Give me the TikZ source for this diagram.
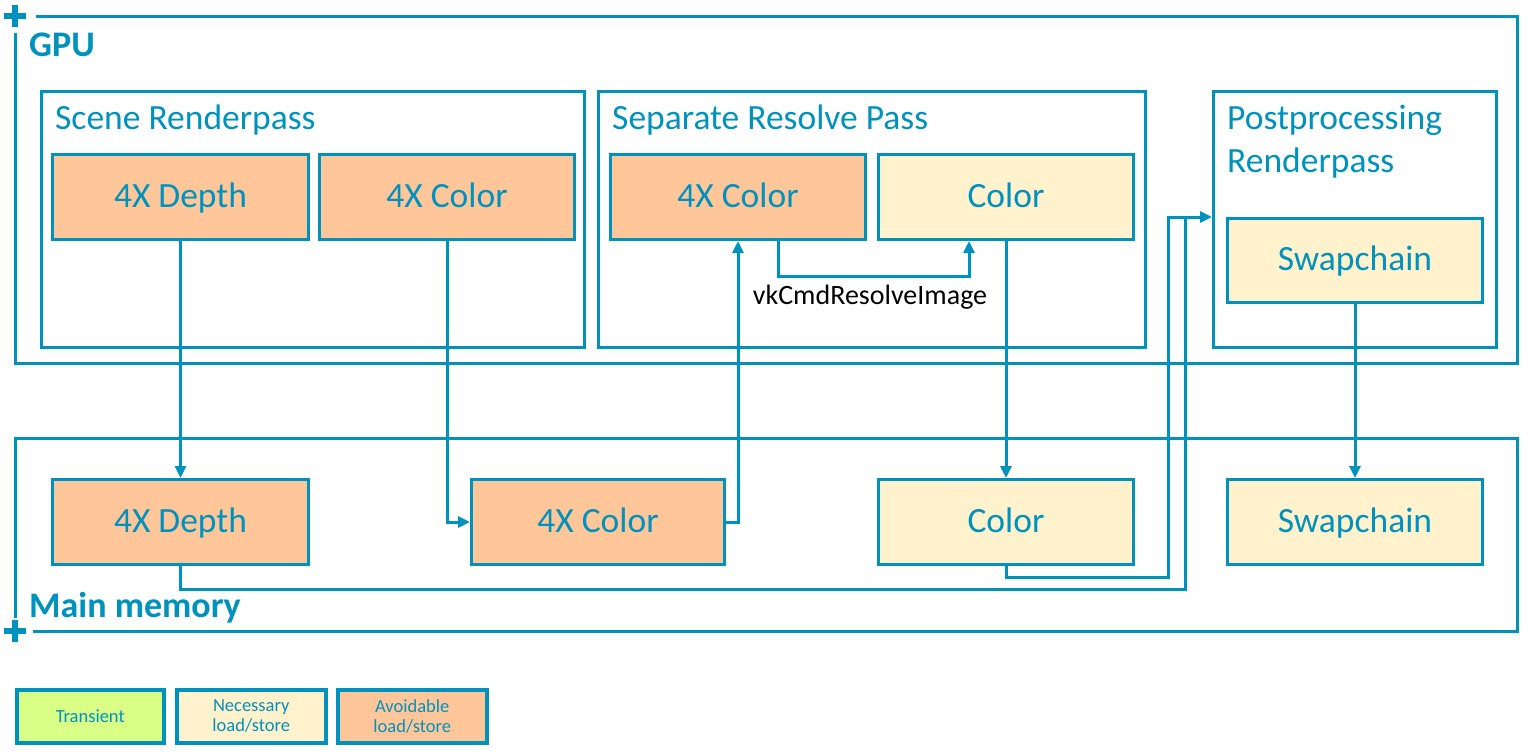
\documentclass[tikz,border=0pt]{standalone}
\usepackage{fontspec}
\setmainfont{Carlito}
\usetikzlibrary{arrows.meta}

\definecolor{dialineblue}{RGB}{0,146,190}
\definecolor{dialineorange}{RGB}{255,198,154}
\definecolor{dialineyellow}{RGB}{255,242,204}
\definecolor{dialinegreen}{RGB}{218,255,134}

\tikzset{
  frameline/.style={draw=dialineblue, line width=3pt},
  plusmark/.style={draw=dialineblue, line width=5.5pt},
  passbox/.style={draw=dialineblue, line width=3pt, anchor=north west, inner sep=0pt},
  bufbox/.style={draw=dialineblue, line width=3pt, anchor=north west, inner sep=0pt,
    minimum height=85pt, text=dialineblue, text height=20pt, text depth=0pt,
    font=\fontsize{35.5}{43}\selectfont},
  avoidbuf/.style={bufbox, fill=dialineorange},
  needbuf/.style={bufbox, fill=dialineyellow},
  keybox/.style={draw=dialineblue, line width=3.5pt, anchor=north west, inner sep=0pt,
    minimum width=147pt, minimum height=53pt, align=center, text=dialineblue,
    font=\fontsize{18.5}{20}\selectfont},
  title/.style={anchor=base west, text=dialineblue, inner sep=0pt, align=left,
    font=\fontsize{35.5}{43}\selectfont},
  flow/.style={draw=dialineblue, line width=3pt,
    -{Triangle[length=12pt,width=11pt]}},
  wire/.style={draw=dialineblue, line width=3pt}
}

\begin{document}
\begin{tikzpicture}[x=1pt,y=-1pt]
\useasboundingbox (0,0) rectangle (1528,753);

% gpu frame
\draw[frameline] (36,16)--(1517,16)--(1517,363)--(15,363)--(15,33);
\draw[plusmark] (4,16)--(26,16) (15,5)--(15,27);
\node[title, font=\bfseries\fontsize{36}{40}\selectfont] (gpulbl) at (29,56) {GPU};

% main memory frame
\draw[frameline] (15,618)--(15,438)--(1517,438)--(1517,631)--(33,631);
\draw[plusmark] (4,631)--(26,631) (15,620)--(15,642);
\node[title, font=\bfseries\fontsize{36}{40}\selectfont] (memlbl) at (29,617) {Main memory};

% passes
\node[passbox, minimum width=543pt, minimum height=256pt] (scene) at (40,90) {};
\node[title] (scenelbl) at (55,129) {Scene Renderpass};
\node[passbox, minimum width=547pt, minimum height=256pt] (resolve) at (597,90) {};
\node[title] (resolvelbl) at (612,129) {Separate Resolve Pass};
\node[passbox, minimum width=283pt, minimum height=256pt] (post) at (1212,90) {};
\node[title] (postlbl) at (1227,172) {Postprocessing\\Renderpass};

% gpu images
\node[avoidbuf, minimum width=256pt] (sdepth) at (51,153) {4X Depth};
\node[avoidbuf, minimum width=255pt] (scolor) at (318,153) {4X Color};
\node[avoidbuf, minimum width=255pt] (rcolor) at (609,153) {4X Color};
\node[needbuf, minimum width=255pt] (rres) at (877,153) {Color};
\node[needbuf, minimum width=255pt, minimum height=84pt] (pswap) at (1226,217) {Swapchain};

% memory images
\node[avoidbuf, minimum width=256pt] (mdepth) at (51,478) {4X Depth};
\node[avoidbuf, minimum width=253pt] (mcolor) at (470,478) {4X Color};
\node[needbuf, minimum width=255pt] (mres) at (877,478) {Color};
\node[needbuf, minimum width=255pt] (mswap) at (1226,478) {Swapchain};

% legend
\node[keybox, fill=dialinegreen] (ktrans) at (15,688) {Transient};
\node[keybox, fill=dialineyellow, minimum width=149pt] (kneed) at (175,688) {Necessary\\load/store};
\node[keybox, fill=dialineorange, minimum width=149pt] (kavoid) at (336,688) {Avoidable\\load/store};

% connectors
\coordinate (postin) at (post.west |- pswap.north);
\draw[flow] (sdepth.south) -- (mdepth.north);
\draw[flow] (scolor.south) |- (mcolor.west);
\draw[flow] (mcolor.east) -| (rcolor.south);
\draw[flow] ([xshift=40pt]rcolor.south) -- ++(0,35) -| ([xshift=-37pt]rres.south);
\node[anchor=base, inner sep=0pt, font=\fontsize{28}{32}\selectfont] (cmdlbl) at (870,304) {vkCmdResolveImage};
\draw[flow] (rres.south) -- (mres.north);
\draw[flow] (pswap.south) -- (mswap.north);
\draw[flow] (mres.south) -- ++(0,11) -| ([xshift=-44pt]postin) -- (postin);
\draw[wire] (mdepth.south) -- ++(0,23) -| ([xshift=-27pt]postin);
\end{tikzpicture}
\end{document}
